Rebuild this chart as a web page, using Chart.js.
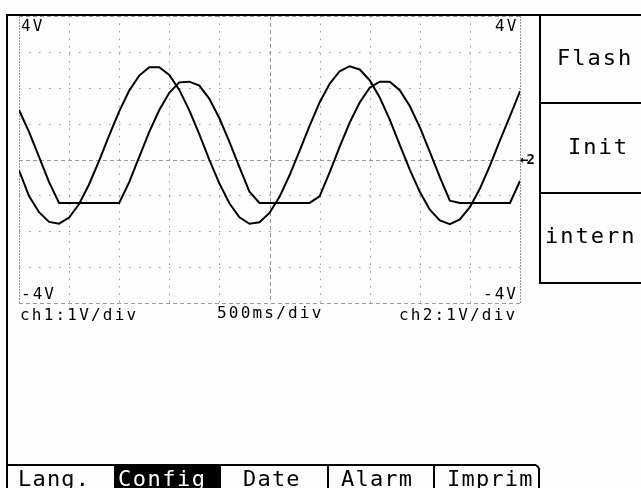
<!DOCTYPE html>
<html>
<head>
<meta charset="utf-8">
<script src="https://cdn.jsdelivr.net/npm/chart.js@4.4.0/dist/chart.umd.min.js"></script>
<style>
  html, body { margin: 0; padding: 0; background: #fcfdfc; }
  #wrap { width: 641px; height: 488px; overflow: hidden; }
</style>
</head>
<body>
<div id="wrap"><canvas id="scope" width="641" height="488"></canvas></div>
<script>
// time axis, seconds (500ms/div, 10 div)
var times = [0, 0.1, 0.2, 0.3, 0.4, 0.5, 0.6, 0.7, 0.8, 0.9,
             1.0, 1.1, 1.2, 1.3, 1.4, 1.5, 1.6, 1.7, 1.8, 1.9,
             2.0, 2.1, 2.2, 2.3, 2.4, 2.5, 2.6, 2.7, 2.8, 2.9,
             3.0, 3.1, 3.2, 3.3, 3.4, 3.5, 3.6, 3.7, 3.8, 3.9,
             4.0, 4.1, 4.2, 4.3, 4.4, 4.5, 4.6, 4.7, 4.8, 4.9, 5.0];

// volts
var ch1 = [-0.30, -1.02, -1.47, -1.74, -1.79, -1.62, -1.24, -0.69, -0.03, 0.67,
           1.34, 1.92, 2.34, 2.57, 2.57, 2.36, 1.94, 1.37, 0.70, -0.01,
           -0.67, -1.22, -1.61, -1.79, -1.75, -1.49, -1.04, -0.44, 0.24, 0.94,
           1.59, 2.11, 2.46, 2.60, 2.51, 2.21, 1.73, 1.11, 0.41, -0.28,
           -0.90, -1.40, -1.70, -1.80, -1.67, -1.33, -0.81, -0.17, 0.53, 1.21, 1.90];

var ch2 = [1.38, 0.77, 0.07, -0.63, -1.21, -1.21, -1.21, -1.21, -1.21, -1.21,
           -1.21, -0.63, 0.07, 0.77, 1.38, 1.86, 2.15, 2.17, 2.06, 1.69,
           1.15, 0.49, -0.21, -0.90, -1.21, -1.21, -1.21, -1.21, -1.21, -1.21,
           -1.03, -0.36, 0.35, 1.03, 1.59, 2.00, 2.17, 2.17, 1.93, 1.49,
           0.90, 0.21, -0.49, -1.15, -1.21, -1.21, -1.21, -1.21, -1.21, -1.21, -0.60];

var xDivs = [0, 0.5, 1, 1.5, 2, 2.5, 3, 3.5, 4, 4.5, 5];
var yDivs = [-4, -3, -2, -1, 0, 1, 2, 3, 4];

var menuItems = ["Flash", "Init", "intern"];
var tabs = ["Lang.", "Config", "Date", "Alarm", "Imprim"];

function pts(vals) {
  return vals.map(function (v, i) { return { x: times[i], y: v }; });
}

var SMALL = '16px "DejaVu Sans Mono"';
var BIG = '22px "DejaVu Sans Mono"';

function txt(c, s, x, y, font, sp, color) {
  c.font = font;
  c.letterSpacing = sp + 'px';
  c.fillStyle = color || '#000';
  c.textAlign = 'left';
  c.textBaseline = 'alphabetic';
  c.fillText(s, x, y);
}

function line(c, x1, y1, x2, y2) {
  c.beginPath();
  c.moveTo(x1, y1);
  c.lineTo(x2, y2);
  c.stroke();
}

var scopeDeco = {
  id: 'scopeDeco',
  beforeDatasetsDraw: function (chart) {
    var c = chart.ctx, xs = chart.scales.x, ys = chart.scales.y;
    var top = ys.getPixelForValue(4), bot = ys.getPixelForValue(-4);
    var left = xs.getPixelForValue(0), right = xs.getPixelForValue(5);
    c.save();
    c.lineWidth = 1;
    c.strokeStyle = '#9a9a9a';
    xDivs.forEach(function (v) {
      var px = Math.round(xs.getPixelForValue(v)) + 0.5;
      if (v === 0 || v === 5) c.setLineDash([2, 1]);
      else if (v === 2.5) c.setLineDash([4, 3]);
      else c.setLineDash([1.5, 6]);
      line(c, px, top, px, bot);
    });
    yDivs.forEach(function (v) {
      var py = Math.round(ys.getPixelForValue(v)) + 0.5;
      if (v === -4 || v === 4 || v === 0) c.setLineDash([4, 3]);
      else c.setLineDash([1.5, 8.5]);
      line(c, left, py, right, py);
    });
    c.restore();
  },
  afterDatasetsDraw: function (chart) {
    var c = chart.ctx;
    c.save();
    // scale labels
    txt(c, '4V', 21, 31, SMALL, 2);
    txt(c, '4V', 495, 31, SMALL, 2);
    txt(c, '-4V', 21, 299, SMALL, 2);
    txt(c, '-4V', 483, 299, SMALL, 2);
    txt(c, 'ch1:1V/div', 20, 320, SMALL, 2.2);
    txt(c, '500ms/div', 217, 318, SMALL, 2.2);
    txt(c, 'ch2:1V/div', 399, 320, SMALL, 2.2);
    txt(c, '\u21902', 520, 164, 'bold 14px "DejaVu Sans Mono"', -2);

    // screen frame
    c.strokeStyle = '#000';
    c.lineWidth = 2;
    c.setLineDash([]);
    line(c, 6, 15, 641, 15);
    line(c, 7, 14, 7, 488);

    // side menu
    line(c, 540, 15, 540, 284);
    line(c, 540, 103, 641, 103);
    line(c, 540, 193, 641, 193);
    line(c, 540, 283, 641, 283);
    txt(c, menuItems[0], 557, 65, BIG, 2);
    txt(c, menuItems[1], 568, 154, BIG, 2);
    txt(c, menuItems[2], 545, 243, BIG, 2);

    // tab bar
    var tabX = [7, 115, 220, 328, 434, 539];
    var tabTextX = [18, 118, 243, 341, 447];
    c.fillStyle = '#000';
    c.fillRect(116, 466, 104, 22);
    line(c, 7, 465, 536, 465);
    line(c, 536, 465, 539, 468);
    for (var i = 1; i < tabX.length; i++) line(c, tabX[i], i === 5 ? 468 : 465, tabX[i], 488);
    for (var j = 0; j < tabs.length; j++) {
      txt(c, tabs[j], tabTextX[j], 486, BIG, j === 1 ? 1.5 : 1.2, j === 1 ? '#fff' : '#000');
    }
    c.restore();
  }
};

var ctx = document.getElementById('scope').getContext('2d');
var chart = new Chart(ctx, {
  type: 'line',
  data: {
    datasets: [
      { label: 'ch1', data: pts(ch1), borderColor: '#000', borderWidth: 2, pointRadius: 0, tension: 0, fill: false },
      { label: 'ch2', data: pts(ch2), borderColor: '#000', borderWidth: 2, pointRadius: 0, tension: 0, fill: false }
    ]
  },
  options: {
    responsive: false,
    animation: false,
    layout: { padding: { left: 19, top: 16, right: 121, bottom: 185 } },
    plugins: { legend: { display: false }, tooltip: { enabled: false } },
    scales: {
      x: { type: 'linear', min: 0, max: 5, display: false },
      y: { type: 'linear', min: -4, max: 4, display: false }
    }
  },
  plugins: [scopeDeco]
});
</script>
</body>
</html>
